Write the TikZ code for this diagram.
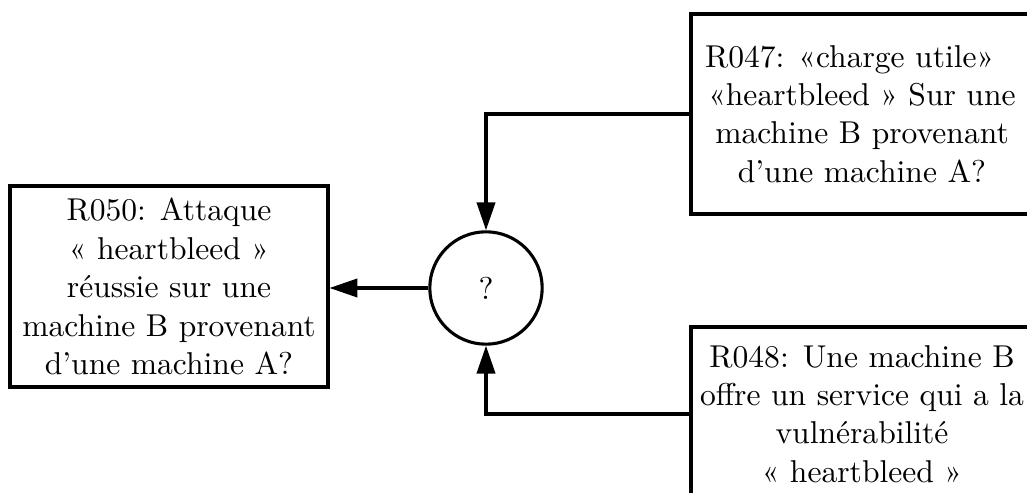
\documentclass[tikz,border=0pt]{standalone}
\usetikzlibrary{arrows.meta}
\begin{document}
\begin{tikzpicture}[x=0.323pt,y=-0.323pt,
  box/.style={draw,line width=1pt,align=center,inner sep=0pt,
    font=\fontsize{10.2}{12.4}\selectfont},
  junction/.style={draw,circle,line width=1pt,minimum size=36.3pt,inner sep=0pt,
    font=\fontsize{10.2}{12.4}\selectfont},
  link/.style={line width=1pt,-{Triangle[length=9pt,width=5.9pt]}}]
  \useasboundingbox (0,0) rectangle (1027,493);
  \clip (0,0) rectangle (1027,493);

  % target of the rule
  \node[box,minimum width=102.7pt,minimum height=64.9pt] (r050) at (169,286.5)
    {R050: Attaque\\« heartbleed »\\réussie sur une\\machine B provenant\\d’une machine A?};

  % combining node
  \node[junction] (q) at (486,288) {?};

  % premises
  \node[box,minimum width=110.5pt,minimum height=64.6pt] (r047) at (862,114)
    {R047: «charge utile»\hspace*{8pt}\\«heartbleed » Sur une\\machine B provenant\\d’une machine A?};
  \node[box,minimum width=110.5pt,minimum height=56.2pt] (r048) at (862,414)
    {R048: Une machine B\\offre un service qui a la\\vulnérabilité\\« heartbleed »};

  % connectors
  \draw[link] (r047.west) -| (q.north);
  \draw[link] (r048.west) -| (q.south);
  \draw[link] (q.west) -- (q.west -| r050.east);
\end{tikzpicture}
\end{document}
